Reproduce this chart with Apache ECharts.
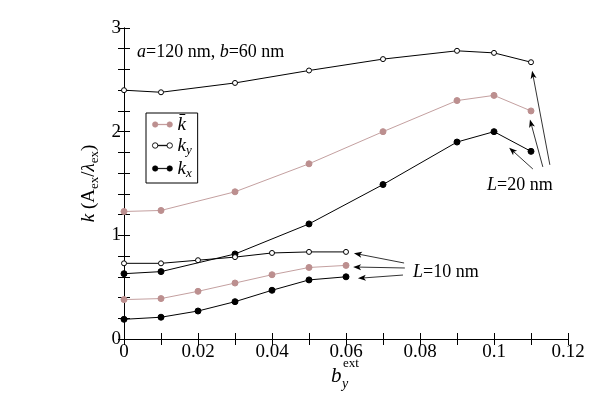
<!DOCTYPE html>
<html>
<head>
<meta charset="utf-8">
<script src="https://cdn.jsdelivr.net/npm/echarts@6/dist/echarts.min.js"></script>
<style>
  html, body { margin: 0; padding: 0; background: #fff; }
  #chart { width: 616px; height: 396px; }
</style>
</head>
<body>
<div id="chart"></div>
<script>
// L = 20 nm
const xL20 = [0, 0.01, 0.03, 0.05, 0.07, 0.09, 0.1, 0.11];
const kyL20 = [2.40, 2.38, 2.47, 2.59, 2.70, 2.78, 2.76, 2.67];
const kbarL20 = [1.23, 1.24, 1.42, 1.69, 2.00, 2.30, 2.35, 2.20];
const kxL20 = [0.63, 0.65, 0.82, 1.11, 1.49, 1.90, 2.00, 1.81];
// L = 10 nm
const xL10 = [0, 0.01, 0.02, 0.03, 0.04, 0.05, 0.06];
const kyL10 = [0.73, 0.73, 0.76, 0.79, 0.83, 0.84, 0.84];
const kbarL10 = [0.38, 0.39, 0.46, 0.54, 0.62, 0.69, 0.71];
const kxL10 = [0.19, 0.21, 0.27, 0.36, 0.47, 0.57, 0.60];

// arrows [x1, y1, x2, y2] in data units (tail -> head)
const arrowsL20 = [
  [0.1105, 1.64, 0.1049, 1.82],
  [0.1132, 1.66, 0.1100, 2.08],
  [0.1151, 1.68, 0.1105, 2.55]
];
const arrowsL10 = [
  [0.0757, 0.733, 0.0632, 0.820],
  [0.0759, 0.685, 0.0630, 0.694],
  [0.0754, 0.617, 0.0643, 0.588]
];

const FONT = '"Liberation Serif", "DejaVu Serif", serif';
const PINK = '#bc8f8f';

// two dots joined by a line, as in the original key
const KEY_ICON = 'path://M0,3 a3,3 0 1,0 6,0 a3,3 0 1,0 -6,0 Z M6,2.8 L16,2.8 L16,3.2 L6,3.2 Z M16,3 a3,3 0 1,0 6,0 a3,3 0 1,0 -6,0 Z';

const pairs = (xs, ys) => xs.map((x, i) => [x, ys[i]]);

const styles = {
  kbar: { color: PINK, line: '#c4a0a0', symbolSize: 6, fill: PINK },
  ky: { color: '#000', line: '#000', symbolSize: 5, fill: '#fff' },
  kx: { color: '#000', line: '#000', symbolSize: 6, fill: '#000' }
};

const makeSeries = (name, data) => ({
  name: name,
  type: 'line',
  data: data,
  symbol: 'circle',
  symbolSize: styles[name].symbolSize,
  lineStyle: { color: styles[name].line, width: 1 },
  itemStyle: { color: styles[name].fill, borderColor: styles[name].color, borderWidth: 1 },
  emphasis: { disabled: true },
  animation: false,
  z: name === 'ky' ? 3 : 2
});

const arrowLines = (list) => list.map(a => [
  { coord: [a[0], a[1]] },
  { coord: [a[2], a[3]] }
]);

const myChart = echarts.init(document.getElementById('chart'));

const option = {
  backgroundColor: '#fff',
  textStyle: { fontFamily: FONT },
  grid: { left: 124, right: 48, top: 28, bottom: 57, containLabel: false },
  legend: {
    orient: 'vertical',
    left: 146,
    top: 113,
    data: [
      { name: 'kbar', icon: KEY_ICON, itemStyle: { color: PINK, borderColor: PINK, borderWidth: 0.6 } },
      { name: 'ky', icon: KEY_ICON, itemStyle: { color: '#fff', borderColor: '#000', borderWidth: 0.9 } },
      { name: 'kx', icon: KEY_ICON, itemStyle: { color: '#000', borderColor: '#000', borderWidth: 0.6 } }
    ],
    borderColor: '#000',
    borderWidth: 1,
    borderRadius: 0,
    padding: [2, 6, 3, 6],
    itemGap: 2,
    itemWidth: 20,
    itemHeight: 6,
    selectedMode: false,
    formatter: function (name) {
      if (name === 'kbar') return '{i|k\u0304}';
      if (name === 'ky') return '{i|k}{s|y}';
      return '{i|k}{s|x}';
    },
    textStyle: {
      fontFamily: FONT,
      color: '#000',
      rich: {
        i: { fontFamily: FONT, fontStyle: 'italic', fontSize: 19, color: '#000' },
        s: { fontFamily: FONT, fontStyle: 'italic', fontSize: 13, color: '#000', padding: [10, 0, 0, 0] }
      }
    }
  },
  xAxis: [{
    type: 'value',
    min: 0,
    max: 0.12,
    interval: 0.02,
    axisLine: { lineStyle: { color: '#000', width: 1 } },
    axisTick: { inside: true, length: 6, lineStyle: { color: '#000' } },
    minorTick: { show: true, splitNumber: 2, length: 6, lineStyle: { color: '#000' } },
    splitLine: { show: false },
    axisLabel: {
      color: '#000',
      fontFamily: FONT,
      fontSize: 19,
      margin: 4,
      formatter: v => String(+v.toFixed(2))
    }
  }, {
    type: 'value',
    position: 'top',
    min: 0,
    max: 0.12,
    interval: 0.02,
    axisLine: { lineStyle: { color: '#000', width: 1 } },
    axisTick: { inside: true, length: 6, lineStyle: { color: '#000' } },
    minorTick: { show: true, splitNumber: 2, length: 6, lineStyle: { color: '#000' } },
    splitLine: { show: false },
    axisLabel: { show: false }
  }],
  yAxis: [{
    type: 'value',
    min: 0,
    max: 3,
    interval: 1,
    name: '{i|k} (A{sub|ex}/{i|\u03bb}{sub|ex})',
    nameLocation: 'middle',
    nameRotate: 90,
    nameGap: 23,
    nameTextStyle: {
      color: '#000',
      fontFamily: FONT,
      fontSize: 19,
      rich: {
        i: { fontFamily: FONT, fontStyle: 'italic', fontSize: 19, color: '#000' },
        sub: { fontFamily: FONT, fontSize: 13, color: '#000', padding: [10, 0, 0, 0] }
      }
    },
    axisLine: { lineStyle: { color: '#000', width: 1 } },
    axisTick: { inside: true, length: 6, lineStyle: { color: '#000' } },
    minorTick: { show: true, splitNumber: 5, length: 6, lineStyle: { color: '#000' } },
    splitLine: { show: false },
    axisLabel: { color: '#000', fontFamily: FONT, fontSize: 19, margin: 3 }
  }, {
    type: 'value',
    position: 'right',
    min: 0,
    max: 3,
    interval: 1,
    axisLine: { lineStyle: { color: '#000', width: 1 } },
    axisTick: { inside: true, length: 6, lineStyle: { color: '#000' } },
    minorTick: { show: true, splitNumber: 5, length: 6, lineStyle: { color: '#000' } },
    splitLine: { show: false },
    axisLabel: { show: false }
  }],
  graphic: [
    {
      type: 'text', left: 137, top: 43, silent: true,
      style: {
        text: '{i|a}=120 nm, {i|b}=60 nm',
        fontFamily: FONT, fontSize: 18, fill: '#000',
        rich: { i: { fontFamily: FONT, fontStyle: 'italic', fontSize: 18 } }
      }
    },
    {
      type: 'text', left: 487, top: 176, silent: true,
      style: {
        text: '{i|L}=20 nm',
        fontFamily: FONT, fontSize: 18, fill: '#000',
        rich: { i: { fontFamily: FONT, fontStyle: 'italic', fontSize: 18 } }
      }
    },
    {
      type: 'text', left: 413, top: 263, silent: true,
      style: {
        text: '{i|L}=10 nm',
        fontFamily: FONT, fontSize: 18, fill: '#000',
        rich: { i: { fontFamily: FONT, fontStyle: 'italic', fontSize: 18 } }
      }
    },
    // x axis name: b_y^ext
    {
      type: 'text', left: 331, top: 366, silent: true,
      style: { text: 'b', fontFamily: FONT, fontStyle: 'italic', fontSize: 21, fill: '#000' }
    },
    {
      type: 'text', left: 343, top: 357, silent: true,
      style: { text: 'ext', fontFamily: FONT, fontSize: 13, fill: '#000' }
    },
    {
      type: 'text', left: 342, top: 377, silent: true,
      style: { text: 'y', fontFamily: FONT, fontStyle: 'italic', fontSize: 14, fill: '#000' }
    }
  ],
  series: [
    makeSeries('kbar', pairs(xL20, kbarL20)),
    makeSeries('ky', pairs(xL20, kyL20)),
    makeSeries('kx', pairs(xL20, kxL20)),
    makeSeries('kbar', pairs(xL10, kbarL10)),
    makeSeries('ky', pairs(xL10, kyL10)),
    makeSeries('kx', pairs(xL10, kxL10)),
    {
      name: 'arrows',
      type: 'line',
      data: [],
      silent: true,
      animation: false,
      markLine: {
        silent: true,
        animation: false,
        symbol: ['none', 'path://M0,0 L5,12 L0,9 L-5,12 Z'],
        symbolSize: [6, 8],
        label: { show: false },
        emphasis: { disabled: true },
        lineStyle: { color: '#000', width: 0.8, type: 'solid' },
        data: arrowLines(arrowsL20).concat(arrowLines(arrowsL10))
      }
    }
  ]
};

myChart.setOption(option);
</script>
</body>
</html>
